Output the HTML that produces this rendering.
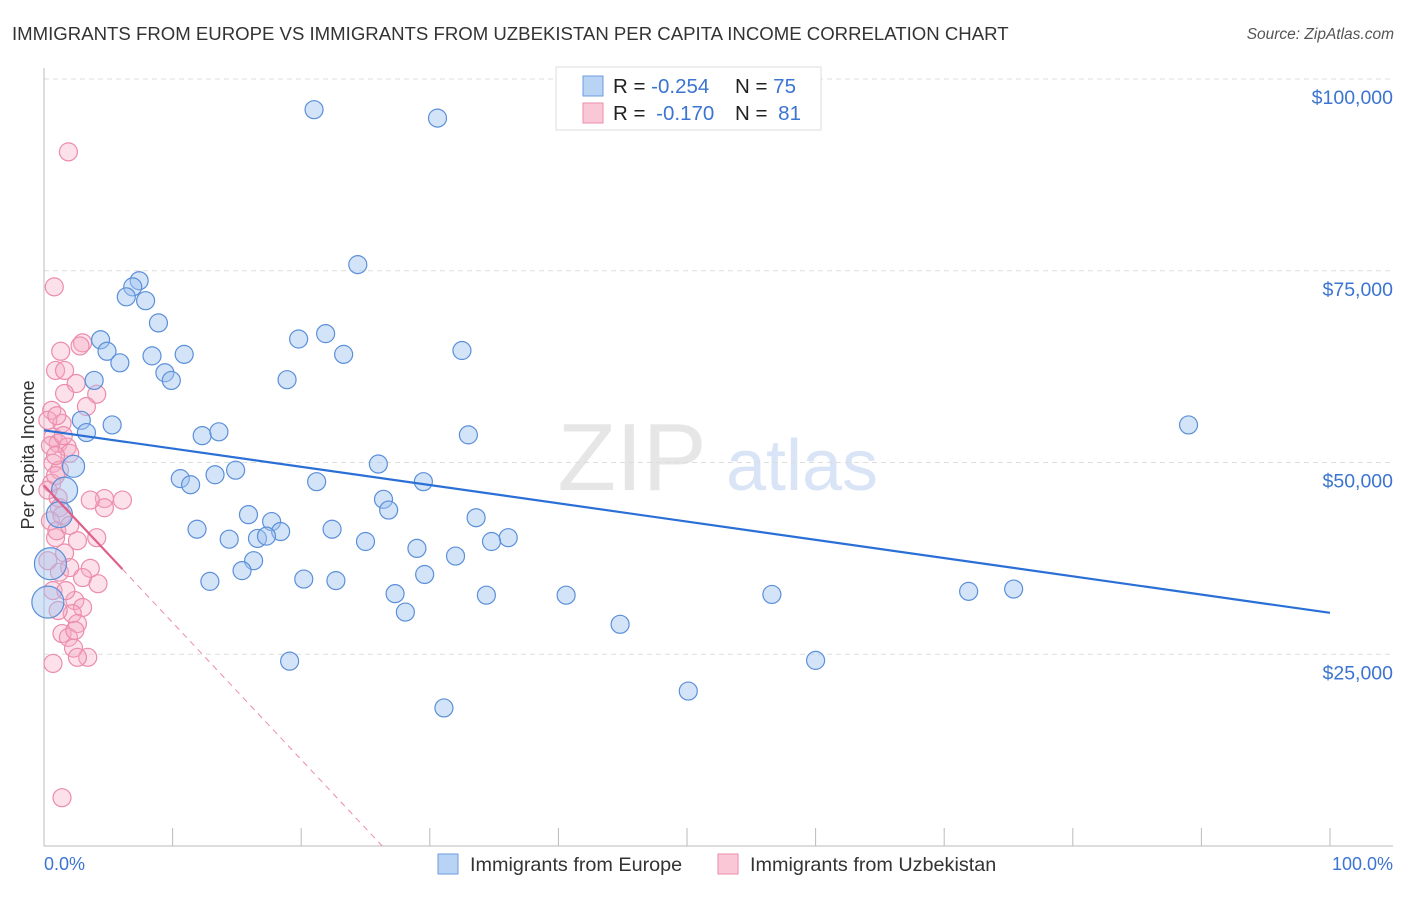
<!DOCTYPE html>
<html><head><meta charset="utf-8"><style>
body{margin:0;background:#fff;font-family:"Liberation Sans",sans-serif}
svg text{font-family:"Liberation Sans",sans-serif}
</style></head><body>
<svg id="chart" width="1406" height="892" xmlns="http://www.w3.org/2000/svg">
<text x="12" y="40" font-size="18.6" fill="#333">IMMIGRANTS FROM EUROPE VS IMMIGRANTS FROM UZBEKISTAN PER CAPITA INCOME CORRELATION CHART</text>
<text x="1394" y="39" font-size="15.5" fill="#555" text-anchor="end" font-style="italic">Source: ZipAtlas.com</text>
<g><text x="632" y="490" font-size="96" fill="#e6e6e6" text-anchor="middle" font-family="Liberation Serif">ZIP</text><text x="802" y="490" font-size="72" fill="#d9e5f6" text-anchor="middle">atlas</text></g>
<g id="grid"></g><g id="axes"></g><g id="marks"></g>
<text transform="translate(34,455) rotate(-90)" font-size="18" fill="#333" text-anchor="middle">Per Capita Income</text>
<g>
<rect x="556" y="67" width="265" height="63" fill="#fff" stroke="#ddd"/>
<rect x="583" y="76" width="20" height="20" fill="#b9d3f5" stroke="#6f9be0"/>
<rect x="583" y="103" width="20" height="20" fill="#f9c7d6" stroke="#ea8fab"/>
<text x="613" y="93" font-size="20.5" fill="#222">R = <tspan fill="#3b74d1">-0.254</tspan></text>
<text x="735" y="93" font-size="20.5" fill="#222">N = <tspan fill="#3b74d1">75</tspan></text>
<text x="613" y="120" font-size="20.5" fill="#222">R = <tspan fill="#3b74d1" dx="5">-0.170</tspan></text>
<text x="735" y="120" font-size="20.5" fill="#222">N = <tspan fill="#3b74d1" dx="5">81</tspan></text>
</g>
<g>
<rect x="438" y="854" width="20" height="20" fill="#b9d3f5" stroke="#6f9be0"/>
<text x="470" y="871" font-size="19.8" fill="#333">Immigrants from Europe</text>
<rect x="718" y="854" width="20" height="20" fill="#f9c7d6" stroke="#ea8fab"/>
<text x="750" y="871" font-size="19.8" fill="#333">Immigrants from Uzbekistan</text>
</g>
<text x="44" y="870" font-size="18" fill="#3b74d1">0.0%</text>
<text x="1393" y="870" font-size="18" fill="#3b74d1" text-anchor="end">100.0%</text>
</svg>
<script>
const yTicks=[25,50,75,100];
const yTickLabels=["$25,000","$50,000","$75,000","$100,000"];
const blueX=[21.0,30.6,24.4,7.4,6.9,6.4,7.9,8.9,4.4,19.8,21.9,4.9,5.9,8.4,10.9,23.3,32.5,9.4,9.9,3.9,18.9,89.0,5.3,2.9,3.3,12.3,13.6,33.0,26.0,10.6,11.4,13.3,14.9,21.2,29.5,26.4,26.8,15.9,33.6,17.7,11.9,14.4,16.6,18.4,17.3,22.4,25.0,36.1,34.8,29.0,32.0,16.3,15.4,12.9,20.2,22.7,29.6,27.3,34.4,40.6,56.6,71.9,75.4,28.1,44.8,19.1,60.0,50.1,31.1,2.3,1.6,1.2,0.5,0.3];
const blueY=[96.0,94.9,75.8,73.7,72.9,71.6,71.1,68.2,66.0,66.1,66.8,64.5,63.0,63.9,64.1,64.1,64.6,61.7,60.7,60.7,60.8,54.9,54.9,55.5,53.9,53.5,54.0,53.6,49.8,47.9,47.1,48.4,49.0,47.5,47.5,45.2,43.8,43.2,42.8,42.3,41.3,40.0,40.1,41.0,40.4,41.3,39.7,40.2,39.7,38.8,37.8,37.2,35.9,34.5,34.8,34.6,35.4,32.9,32.7,32.7,32.8,33.2,33.5,30.5,28.9,24.1,24.2,20.2,18.0,49.5,46.4,43.2,36.8,31.8];
const blueSize=[9,9,9,9,9,9,9,9,9,9,9,9,9,9,9,9,9,9,9,9,9,9,9,9,9,9,9,9,9,9,9,9,9,9,9,9,9,9,9,9,9,9,9,9,9,9,9,9,9,9,9,9,9,9,9,9,9,9,9,9,9,9,9,9,9,9,9,9,9,11,13,13,16,16];
const pinkX=[1.9,0.8,3.0,1.3,0.9,1.6,2.5,1.6,4.1,3.3,0.6,1.4,0.7,1.1,1.8,2.0,0.7,1.2,0.6,1.1,4.7,6.1,4.7,1.2,0.9,2.6,4.1,1.6,1.2,2.0,3.6,3.0,4.2,0.7,2.4,3.0,2.2,2.6,1.4,1.9,2.3,3.4,2.6,0.7,1.4,0.3,0.5,0.9,0.3,0.5,1.0,1.4,2.0,0.3,1.7,1.1,2.4,3.6,0.9,1.5,2.8,1.0];
const pinkY=[90.5,72.9,65.6,64.5,62.0,62.0,60.3,59.0,58.9,57.3,56.8,55.1,53.3,52.5,52.0,51.2,49.9,49.0,47.3,45.4,45.3,45.1,44.1,44.1,40.2,39.8,40.2,38.2,35.7,36.3,36.2,35.0,34.2,33.3,32.0,31.1,30.3,29.0,27.7,27.2,25.8,24.6,24.6,23.8,6.3,55.5,52.2,50.9,46.4,42.4,41.1,43.1,41.8,37.2,33.3,30.7,28.1,45.1,48.3,53.5,65.2,56.1];
const blueTrend=[54.2,30.4];
const pinkTrend=[47.0,-131.7];
const pinkSolidEnd=6.1;
const NS="http://www.w3.org/2000/svg";
const X0=44,X1=1330,Ybase=846,Ytop=79;
function xs(v){return X0+(X1-X0)*v/100;}
function ys(v){return Ybase-(Ybase-Ytop)*v/100;}
function mk(t,a,p){const e=document.createElementNS(NS,t);for(const k in a)e.setAttribute(k,a[k]);p.appendChild(e);return e;}
const grid=document.getElementById('grid'),axes=document.getElementById('axes'),marks=document.getElementById('marks');
yTicks.forEach((t,i)=>{
 const l=mk('line',{x1:X0,x2:1393,y1:ys(t),y2:ys(t),stroke:'#ddd','stroke-dasharray':'5,4'},grid);
 
 
 const tx=mk('text',{x:1393,y:ys(t)+25,'font-size':19.5,fill:'#3b74d1','text-anchor':'end'},axes);
 tx.textContent=yTickLabels[i];
 
 
});
const ya=mk('line',{x1:X0,x2:X0,y1:68,y2:Ybase,stroke:'#bbb'},axes);


const xa=mk('line',{x1:X0,x2:1393,y1:Ybase,y2:Ybase,stroke:'#bbb'},axes);


for(let i=0;i<=10;i++){
 const tk=mk('line',{x1:xs(i*10),x2:xs(i*10),y1:828,y2:Ybase,stroke:'#bbb'},axes);
 
 
}
pinkX.forEach((v,i)=>{
 const c=mk('circle',{cx:xs(v),cy:ys(pinkY[i]),r:9,fill:'rgba(246,168,194,0.35)',stroke:'#ec8cab','stroke-width':1.2},marks);
 
 
});
blueX.forEach((v,i)=>{
 const c=mk('circle',{cx:xs(v),cy:ys(blueY[i]),r:blueSize[i],fill:'rgba(160,195,240,0.45)',stroke:'#5b8fd9','stroke-width':1.2},marks);
 
 
});
const bt=mk('line',{x1:xs(0),y1:ys(blueTrend[0]),x2:xs(100),y2:ys(blueTrend[1]),stroke:'#2a6fd6','stroke-width':2.2},marks);


const py=x=>pinkTrend[0]+(pinkTrend[1]-pinkTrend[0])*x/100;
const xz=-pinkTrend[0]/((pinkTrend[1]-pinkTrend[0])/100);
const pd=mk('line',{x1:xs(pinkSolidEnd),y1:ys(py(pinkSolidEnd)),x2:xs(xz),y2:ys(0),stroke:'#ec8cab','stroke-width':1,'stroke-dasharray':'6,5'},marks);


const ps=mk('line',{x1:xs(0),y1:ys(py(0)),x2:xs(pinkSolidEnd),y2:ys(py(pinkSolidEnd)),stroke:'#e0608a','stroke-width':2.2},marks);


</script>
</body></html>
